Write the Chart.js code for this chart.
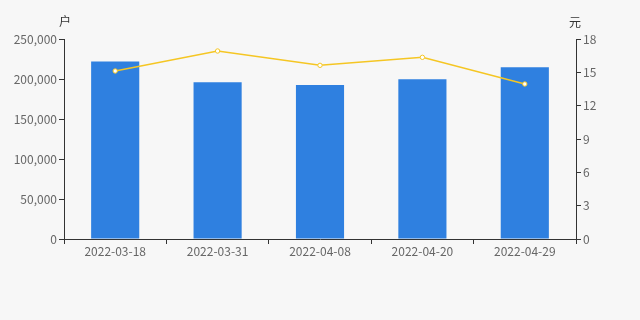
<!DOCTYPE html>
<html>
<head>
<meta charset="utf-8">
<script src="https://cdn.jsdelivr.net/npm/chart.js@4.4.0/dist/chart.umd.min.js"></script>
<style>
  html, body { margin: 0; padding: 0; background: #f7f7f7; }
  #wrap { width: 640px; height: 320px; }
</style>
</head>
<body>
<div id="wrap"><canvas id="chart" width="640" height="320"></canvas></div>
<script>
// 股东户数 vs 股价
const dates   = ['2022-03-18', '2022-03-31', '2022-04-08', '2022-04-20', '2022-04-29'];
const holders = [222000, 196000, 192500, 199800, 214800];
const prices  = [15.12, 16.92, 15.63, 16.35, 13.95];
const leftTicks  = [0, 50000, 100000, 150000, 200000, 250000];
const rightTicks = [0, 3, 6, 9, 12, 15, 18];

const axisColor = '#333333';
const labelColor = '#666666';
const font = { family: 'Noto Sans CJK SC, Noto Sans, sans-serif', size: 12 };

// draws the unit labels above both y axes
const unitLabels = {
  id: 'unitLabels',
  afterDraw: function(chart) {
    var ctx = chart.ctx;
    var area = chart.chartArea;
    ctx.save();
    ctx.fillStyle = '#333';
    ctx.font = '12px "Noto Sans CJK SC", sans-serif';
    ctx.textAlign = 'center';
    ctx.textBaseline = 'middle';
    ctx.fillText('户', area.left + 1, 21);
    ctx.fillText('元', area.right - 1, 22);
    ctx.restore();
  }
};

new Chart(document.getElementById('chart'), {
  type: 'bar',
  data: {
    labels: dates,
    datasets: [
      {
        type: 'line',
        data: prices,
        yAxisID: 'yR',
        borderColor: '#f5c623',
        borderWidth: 1.5,
        pointRadius: 2.2,
        pointBackgroundColor: '#ffffff',
        pointBorderColor: '#f5c623',
        pointBorderWidth: 1,
        tension: 0,
        order: 0
      },
      {
        type: 'bar',
        data: holders,
        yAxisID: 'yL',
        backgroundColor: '#2f80e0',
        categoryPercentage: 0.94,
        barPercentage: 0.5,
        order: 1
      }
    ]
  },
  options: {
    responsive: false,
    animation: false,
    layout: { padding: { top: 39, left: 0, right: 0, bottom: 0 } },
    plugins: { legend: { display: false }, tooltip: { enabled: false } },
    scales: {
      x: {
        grid: { display: true, drawOnChartArea: false, tickLength: 5, color: axisColor, offset: true },
        border: { color: axisColor, width: 1 },
        ticks: { color: labelColor, font: font, padding: 0, maxRotation: 0 },
        afterFit: function(s) { s.height = 81; }
      },
      yL: {
        position: 'left',
        min: 0, max: 250000,
        afterBuildTicks: function(s) { s.ticks = leftTicks.map(function(v) { return { value: v }; }); },
        grid: { display: true, drawOnChartArea: false, tickLength: 5, color: axisColor },
        border: { color: axisColor, width: 1 },
        ticks: { color: labelColor, font: font, padding: 2,
          callback: function(v) { return v.toLocaleString('en-US'); } },
        afterFit: function(s) { s.width = 64; }
      },
      yR: {
        position: 'right',
        min: 0, max: 18,
        afterBuildTicks: function(s) { s.ticks = rightTicks.map(function(v) { return { value: v }; }); },
        grid: { display: true, drawOnChartArea: false, tickLength: 5, color: axisColor },
        border: { color: axisColor, width: 1 },
        ticks: { color: labelColor, font: font, padding: 2 },
        afterFit: function(s) { s.width = 64; }
      }
    }
  },
  plugins: [unitLabels]
});
</script>
</body>
</html>
